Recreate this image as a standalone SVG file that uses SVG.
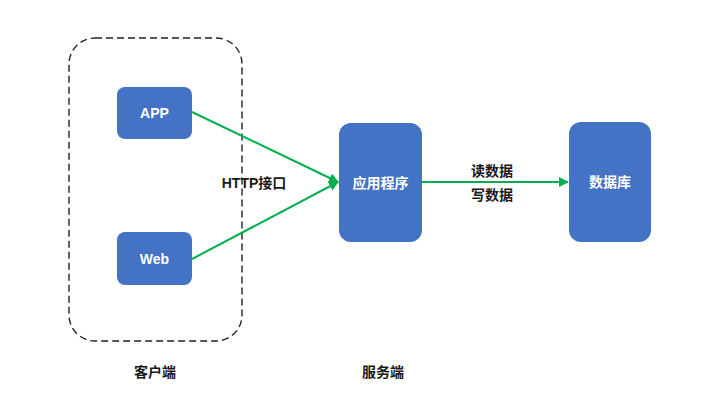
<svg xmlns="http://www.w3.org/2000/svg" width="715" height="411" viewBox="0 0 715 411">
<style>
.box{fill:#4472C4;}
.wt{fill:#fff;font-family:"Liberation Sans","Noto Sans CJK SC",sans-serif;font-size:14px;font-weight:bold;text-anchor:middle;dominant-baseline:central;}
.bt{fill:#1a1a1a;font-family:"Liberation Sans","Noto Sans CJK SC",sans-serif;font-size:14px;font-weight:bold;text-anchor:middle;dominant-baseline:central;}
.edge{stroke:#00B050;stroke-width:2;fill:none;marker-end:url(#arr);}
</style>
<defs>
<marker id="arr" viewBox="0 0 10 10" refX="9" refY="5" markerWidth="5" markerHeight="5" orient="auto" markerUnits="strokeWidth">
<path d="M0,0 L10,5 L0,10 z" fill="#00B050"/>
</marker>
</defs>
<rect width="715" height="411" fill="#fff"/>
<g id="client-group">
<rect x="69" y="38" width="173" height="303" rx="26" ry="26" fill="none" stroke="#222" stroke-width="1.4" stroke-dasharray="7,4"/>
<text class="bt" x="155" y="372">客户端</text>
</g>
<g id="server-label"><text class="bt" x="383" y="372">服务端</text></g>
<g id="connectors">
<line class="edge" x1="192" y1="112" x2="338" y2="182"/>
<line class="edge" x1="192" y1="259" x2="338" y2="182"/>
<line class="edge" x1="422" y1="182" x2="568" y2="182"/>
<text class="bt" x="254" y="183">HTTP接口</text>
<text class="bt" x="492" y="171">读数据</text>
<text class="bt" x="492" y="195">写数据</text>
</g>
<g id="app"><rect class="box" x="117" y="87" width="75" height="52" rx="8"/><text class="wt" x="154.5" y="113">APP</text></g>
<g id="web"><rect class="box" x="117" y="232" width="75" height="53" rx="8"/><text class="wt" x="154.5" y="258.5">Web</text></g>
<g id="application"><rect class="box" x="339" y="123" width="83" height="119" rx="12"/><text class="wt" x="380.5" y="183">应用程序</text></g>
<g id="database"><rect class="box" x="569" y="122" width="82" height="120" rx="12"/><text class="wt" x="610" y="182">数据库</text></g>
</svg>
